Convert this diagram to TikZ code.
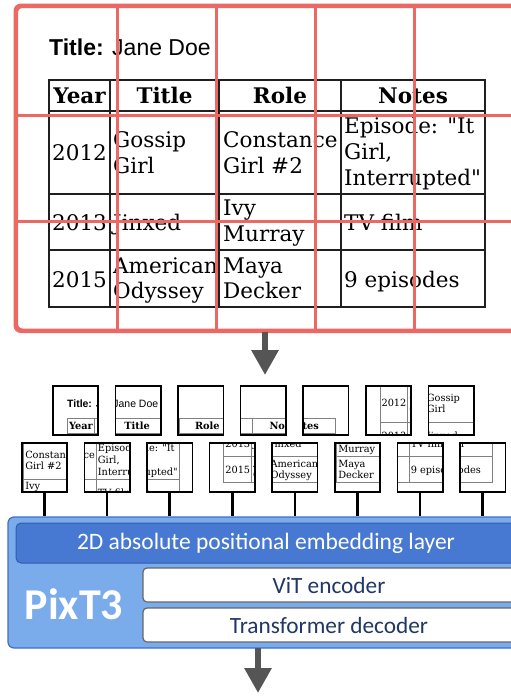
\documentclass[tikz,border=0pt]{standalone}
\usepackage{fontspec}
\usetikzlibrary{arrows.meta,shadows}
\newfontfamily\dvs{DejaVu Serif}
\newfontfamily\arialf{Liberation Sans}
\newfontfamily\calib{Carlito}
\definecolor{gridred}{RGB}{236,104,98}
\definecolor{arrgray}{RGB}{85,85,85}
\definecolor{outerblue}{RGB}{122,171,235}
\definecolor{outerline}{RGB}{62,110,200}
\definecolor{innerblue}{RGB}{72,121,210}
\definecolor{innerline}{RGB}{50,92,175}
\definecolor{darktext}{RGB}{31,56,100}
\tikzset{
  tabline/.style={draw=black!88, line width=1.6pt},
  cell/.style={anchor=base west, inner sep=0pt, font=\dvs\fontsize{21.5}{26}\selectfont},
  hd/.style={anchor=base, inner sep=0pt, font=\dvs\bfseries\fontsize{21.5}{26}\selectfont},
  patchbox/.style={minimum width=45pt, minimum height=49pt, inner sep=0pt, fill=white,
     drop shadow={shadow xshift=0.8pt, shadow yshift=-0.8pt, opacity=0.35, fill=black!70}},
  patchline/.style={draw=black, line width=1.5pt},
  conn/.style={draw=black, line width=2.5pt},
  gridline/.style={draw=gridred, line width=3pt},
  bigarrow/.style={draw=arrgray, line width=6pt, -{Triangle[width=26pt,length=25pt]}},
  layerbox/.style={draw=black!60, line width=1.2pt, fill=white, rounded corners=4pt,
     minimum height=34pt, inner sep=0pt, font=\calib\fontsize{23.3}{27}\selectfont, text=darktext},
}
\newcommand\tabcontent{%
  \node[anchor=base west, inner sep=0pt, font=\arialf\fontsize{23}{27}\selectfont] (ttl) at (49,55) {\textbf{Title:} Jane Doe};
  \draw[tabline] (49,80) rectangle (485,307);
  \draw[tabline] (49,111) -- (485,111) (49,194) -- (485,194) (49,250) -- (485,250);
  \draw[tabline] (110,80) -- (110,307) (219,80) -- (219,307) (341,80) -- (341,307);
  \node[hd] (h1) at (79.5,103) {Year};
  \node[hd] (h2) at (164.5,103) {Title};
  \node[hd] (h3) at (280,103) {Role};
  \node[hd] (h4) at (413,103) {Notes};
  \node[cell] (c11) at (52,160) {2012};
  \node[cell] (c12a) at (113,147.5) {Gossip};
  \node[cell] (c12b) at (113,173) {Girl};
  \node[cell] (c13a) at (223,147.5) {Constance};
  \node[cell] (c13b) at (223,173) {Girl \#2};
  \node[cell] (c14a) at (344,133) {Episode: "It};
  \node[cell] (c14b) at (344,159) {Girl,};
  \node[cell] (c14c) at (344,185) {Interrupted"};
  \node[cell] (c21) at (52,230) {2013};
  \node[cell] (c22) at (113,230) {Jinxed};
  \node[cell] (c23a) at (223,215) {Ivy};
  \node[cell] (c23b) at (223,241) {Murray};
  \node[cell] (c24) at (344,230) {TV film};
  \node[cell] (c31) at (52,287) {2015};
  \node[cell] (c32a) at (113,273) {American};
  \node[cell] (c32b) at (113,298) {Odyssey};
  \node[cell] (c33a) at (223,273) {Maya};
  \node[cell] (c33b) at (223,298) {Decker};
  \node[cell] (c34) at (344,287) {9 episodes};
}
% #1 name, #2 x, #3 y of patch top-left, #4 #5 cell top-left
\newcommand\mkpatch[5]{%
  \node[patchbox] (#1) at ({#2+22.5},{#3+24.5}) {};
  \begin{scope}
    \clip (#1.north west) rectangle (#1.south east);
    \begin{scope}[shift={({#2-0.4545*#4},{#3-0.462*#5})}, xscale=0.4545, yscale=0.462,
        transform shape, name prefix=#1-, tabline/.style={draw=black!50, line width=0.8pt}]
      \tabcontent
    \end{scope}
  \end{scope}
  \draw[patchline] (#1.north west) rectangle (#1.south east);
}
\begin{document}
\begin{tikzpicture}[x=1pt,y=-1pt]
\useasboundingbox (0,0) rectangle (511,696);
% source image frame
\node[draw=gridred, line width=3pt, rounded corners=6pt, fill=white,
  minimum width=513.5pt, minimum height=323.5pt, inner sep=0pt,
  drop shadow={shadow xshift=0pt, shadow yshift=-1.5pt, opacity=0.25, fill=black!60}] (img) at (273.25,168.25) {};
\begin{scope}[name prefix=src-]
  \tabcontent
\end{scope}
\draw[gridline] (117,6.5) -- (117,330) (216,6.5) -- (216,330) (315,6.5) -- (315,330) (414,6.5) -- (414,330);
\draw[gridline] (16.5,115) -- (530,115) (16.5,221) -- (530,221);
\draw[draw=gridred, line width=3pt, rounded corners=6pt] (img.north west) rectangle (img.south east);
% arrow 1
\coordinate (a1) at (265,331.5);
\coordinate (a2) at (265,375);
\draw[bigarrow] (a1) -- (a2);
% patches row 1
\mkpatch{p1}{53}{386}{18}{9}
\mkpatch{p2}{115.6}{386}{117}{9}
\mkpatch{p3}{178.2}{386}{216}{9}
\mkpatch{p4}{240.8}{386}{315}{9}
\mkpatch{p5}{303.4}{386}{414}{9}
\mkpatch{p6}{366}{386}{18}{115}
\mkpatch{p7}{428.6}{386}{117}{115}
% patches row 2
\mkpatch{q1}{22}{443}{216}{115}
\mkpatch{q2}{84.6}{443}{315}{115}
\mkpatch{q3}{147.2}{443}{414}{115}
\mkpatch{q4}{209.8}{443}{18}{221}
\mkpatch{q5}{272.4}{443}{117}{221}
\mkpatch{q6}{335}{443}{216}{221}
\mkpatch{q7}{397.6}{443}{315}{221}
\mkpatch{q8}{460.2}{443}{414}{221}
% PixT3 block
\node[draw=outerline, line width=1.2pt, fill=outerblue, rounded corners=6pt,
  minimum width=516pt, minimum height=131pt, inner sep=0pt] (pixt) at (266,582.5) {};
\node[draw=innerline, line width=1pt, fill=innerblue, rounded corners=5pt,
  minimum width=500pt, minimum height=40pt, inner sep=0pt, text=white,
  font=\calib\fontsize{23.5}{27}\selectfont] (emb) at (266,543) {2D absolute positional embedding layer};
\node[layerbox, minimum width=372pt] (vit) at (329,585) {ViT encoder};
\node[layerbox, minimum width=372pt] (dec) at (329,625) {Transformer decoder};
\node[anchor=base, inner sep=0pt, text=white, font=\calib\bfseries\fontsize{44}{50}\selectfont] (name) at (74,619.5) {PixT3};
% connectors
\foreach \q in {q1,q2,q3,q4,q5,q6,q7,q8}
  \draw[conn] (\q.south) -- (\q.south |- pixt.north);
% arrow 2
\coordinate (b1) at (258,648);
\coordinate (b2) at (258,693);
\draw[bigarrow] (b1) -- (b2);
\end{tikzpicture}
\end{document}
